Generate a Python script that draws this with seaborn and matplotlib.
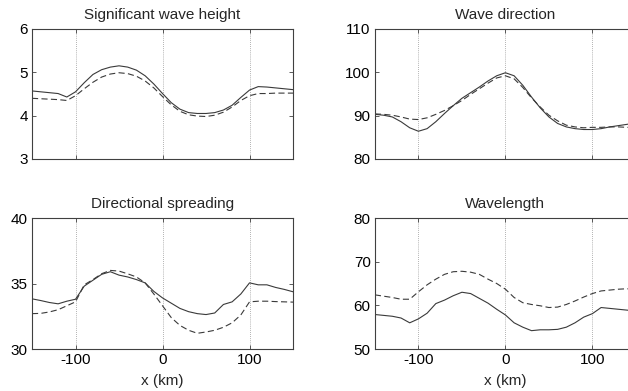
import matplotlib
matplotlib.use("Agg")
import matplotlib.pyplot as plt
import seaborn as sns
import pandas as pd

# Along-track distance (km)
x_km = list(range(-150, 151, 10))

# Significant wave height (m)
hs_a = [4.57, 4.55, 4.53, 4.51, 4.43, 4.55, 4.76, 4.95, 5.06, 5.12, 5.15,
        5.12, 5.05, 4.92, 4.73, 4.51, 4.30, 4.15, 4.07, 4.05, 4.05,
        4.07, 4.13, 4.24, 4.42, 4.59, 4.67, 4.66, 4.64, 4.62, 4.60]
hs_b = [4.40, 4.39, 4.38, 4.37, 4.35, 4.46, 4.62, 4.77, 4.89, 4.96, 4.99,
        4.97, 4.91, 4.80, 4.64, 4.44, 4.25, 4.10, 4.02, 3.99, 3.98,
        4.01, 4.08, 4.20, 4.35, 4.46, 4.51, 4.51, 4.52, 4.52, 4.52]

# Wave direction (deg)
dir_a = [90.3, 90.1, 89.7, 88.6, 87.2, 86.4, 87.0, 88.6, 90.5, 92.3, 94.0,
         95.3, 96.6, 98.0, 99.2, 99.9, 99.2, 97.0, 94.3, 91.8, 89.7,
         88.2, 87.4, 87.0, 86.8, 86.8, 87.0, 87.4, 87.7, 88.0, 88.4]
dir_b = [90.4, 90.3, 90.1, 89.7, 89.2, 89.1, 89.5, 90.3, 91.2, 92.3, 93.5,
         94.9, 96.2, 97.5, 98.7, 99.2, 98.5, 96.5, 94.1, 92.0, 90.1,
         88.8, 87.8, 87.4, 87.2, 87.3, 87.3, 87.4, 87.4, 87.3, 87.3]

# Directional spreading (deg)
spr_a = [33.83, 33.70, 33.55, 33.45, 33.65, 33.80, 34.80, 35.25, 35.70, 35.90, 35.64,
         35.50, 35.30, 35.05, 34.40, 33.90, 33.50, 33.10, 32.85, 32.70, 32.63,
         32.75, 33.40, 33.60, 34.20, 35.05, 34.90, 34.90, 34.70, 34.55, 34.37]
spr_b = [32.70, 32.72, 32.83, 33.00, 33.30, 33.60, 34.90, 35.30, 35.75, 36.00, 35.95,
         35.74, 35.50, 35.05, 34.20, 33.30, 32.40, 31.80, 31.43, 31.20, 31.30,
         31.43, 31.66, 32.00, 32.60, 33.60, 33.65, 33.65, 33.62, 33.60, 33.58]

# Wavelength (m)
wl_a = [57.9, 57.7, 57.5, 57.1, 56.0, 56.9, 58.2, 60.4, 61.2, 62.2, 63.0,
        62.7, 61.6, 60.5, 59.1, 57.8, 56.0, 55.0, 54.2, 54.4, 54.4,
        54.5, 55.0, 56.0, 57.3, 58.1, 59.5, 59.3, 59.1, 58.9, 58.7]
wl_b = [62.4, 62.1, 61.8, 61.4, 61.4, 63.1, 64.7, 66.0, 67.1, 67.7, 67.8,
        67.6, 67.1, 66.0, 65.0, 63.7, 61.8, 60.6, 60.2, 59.9, 59.5,
        59.6, 60.2, 61.0, 61.9, 62.7, 63.3, 63.5, 63.7, 63.8, 63.6]

titles = ["Significant wave height", "Wave direction",
          "Directional spreading", "Wavelength"]
ylims = [(3, 6), (80, 110), (30, 40), (50, 80)]
yticks = [[3, 4, 5, 6], [80, 90, 100, 110], [30, 35, 40], [50, 60, 70, 80]]
xticks = [-100, 0, 100]

sns.set_theme(style="white")
plt.rcParams["font.family"] = ["Liberation Sans", "DejaVu Sans"]
plt.rcParams["font.size"] = 11
plt.rcParams["axes.unicode_minus"] = False

fig = plt.figure(figsize=(6.28, 3.91), dpi=100)
positions = [
    [0.051, 0.5934, 0.4156, 0.3325],
    [0.597, 0.5934, 0.4156, 0.3325],
    [0.051, 0.1074, 0.4156, 0.3350],
    [0.597, 0.1074, 0.4156, 0.3350],
]
series = [(hs_a, hs_b), (dir_a, dir_b), (spr_a, spr_b), (wl_a, wl_b)]
line_color = "#3a3a3a"

for i, (pos, (ya, yb)) in enumerate(zip(positions, series)):
    ax = fig.add_axes(pos)
    ax.set_facecolor("white")
    df = pd.DataFrame({"x": x_km, "a": ya, "b": yb})
    for xv in xticks:
        ax.axvline(xv, color="#999999", lw=0.6, ls=(0, (1, 1.5)), zorder=0)
    sns.lineplot(data=df, x="x", y="a", ax=ax, color=line_color, lw=0.8)
    sns.lineplot(data=df, x="x", y="b", ax=ax, color=line_color, lw=0.8,
                 linestyle=(0, (5.5, 3)))
    ax.set_xlim(-150, 150)
    ax.set_ylim(*ylims[i])
    ax.set_yticks(yticks[i])
    ax.set_xticks(xticks)
    ax.set_ylabel("")
    ax.set_title(titles[i], fontsize=11, pad=7)
    if i >= 2:
        ax.set_xlabel("x (km)", fontsize=11, labelpad=5)
    else:
        ax.set_xlabel("")
        ax.set_xticklabels([])
    ax.tick_params(direction="in", length=3, width=0.6, color="#404040",
                   labelsize=11, labelcolor="black", pad=3,
                   top=True, right=True, bottom=True, left=True)
    for sp in ax.spines.values():
        sp.set_color("#404040")
        sp.set_linewidth(0.8)

fig.savefig("out.png", dpi=100)
